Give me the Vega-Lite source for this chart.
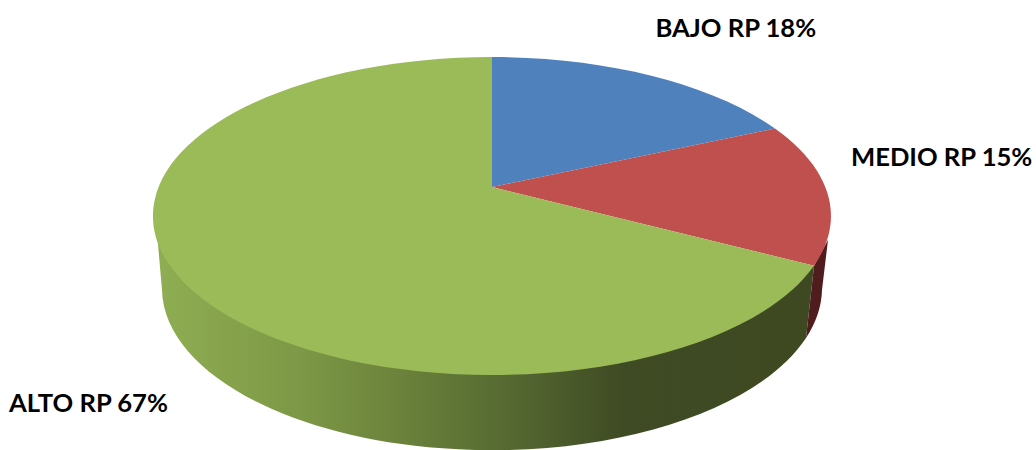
{"$schema":"https://vega.github.io/schema/vega-lite/v6.json","width":1036,"height":450,"padding":0,"autosize":{"type":"none"},"background":"white","view":{"stroke":null},
"data":{"values":[{"nivel":"BAJO RP","porcentaje":18,"etiqueta":"BAJO RP 18%"},{"nivel":"MEDIO RP","porcentaje":15,"etiqueta":"MEDIO RP 15%"},{"nivel":"ALTO RP","porcentaje":67,"etiqueta":"ALTO RP 67%"}]},
"layer":[
{"transform":[{"filter":"datum.nivel === 'ALTO RP'"}],
"mark":{"type":"point","filled":true,"opacity":1,"size":4,"strokeWidth":0,"fill":{"gradient":"linear","x1":0,"y1":0,"x2":1,"y2":0,"stops":[{"offset":0,"color":"#8fae52"},{"offset":0.22,"color":"#7d9846"},{"offset":0.36,"color":"#6c843c"},{"offset":0.53,"color":"#566a32"},{"offset":0.71,"color":"#3f4b24"},{"offset":1,"color":"#3e4922"}]}},
"encoding":{"shape":{"field":"nivel","type":"nominal","legend":null,"scale":{"domain":["ALTO RP"],"range":["M-363,-7L-361,8L-356,65A330,162 0 0 0 288,113L296,41Z"]}}}},
{"transform":[{"filter":"datum.nivel === 'MEDIO RP'"}],
"mark":{"type":"point","filled":true,"opacity":1,"size":4,"strokeWidth":0,"fill":"#4f1d1e"},
"encoding":{"shape":{"field":"nivel","type":"nominal","legend":null,"scale":{"domain":["MEDIO RP"],"range":["M296,41L288,113A330,162 0 0 0 304,65L310,15Z"]}}}},
{"mark":{"type":"point","filled":true,"opacity":1,"size":4,"strokeWidth":0},
"encoding":{"shape":{"field":"nivel","type":"nominal","legend":null,"scale":{"domain":["BAJO RP","MEDIO RP","ALTO RP"],"range":["M-26,-38L-26,-168A339,159 0 0 1 257,-96.5Z","M-26,-38L257,-96.5A339,159 0 0 1 296,40.7Z","M-26,-38L296,40.7A339,159 0 1 1 -26,-168Z"]}},
"color":{"field":"nivel","type":"nominal","legend":null,"scale":{"domain":["BAJO RP","MEDIO RP","ALTO RP"],"range":["#4f81bd","#c0504d","#9bbb59"]}}}},
{"mark":{"type":"text","font":"Lato","fontWeight":"bold","fontSize":25.6,"align":"left","baseline":"alphabetic","color":"#000000"},
"encoding":{"text":{"field":"etiqueta"},
"x":{"field":"porcentaje","type":"quantitative","axis":null,"scale":{"domain":[15,18,67],"range":[851,655.5,9],"zero":false,"nice":false}},
"y":{"field":"porcentaje","type":"quantitative","axis":null,"scale":{"domain":[15,18,67],"range":[166,37,412],"zero":false,"nice":false}}}}
],
"resolve":{"scale":{"shape":"independent"}}}
